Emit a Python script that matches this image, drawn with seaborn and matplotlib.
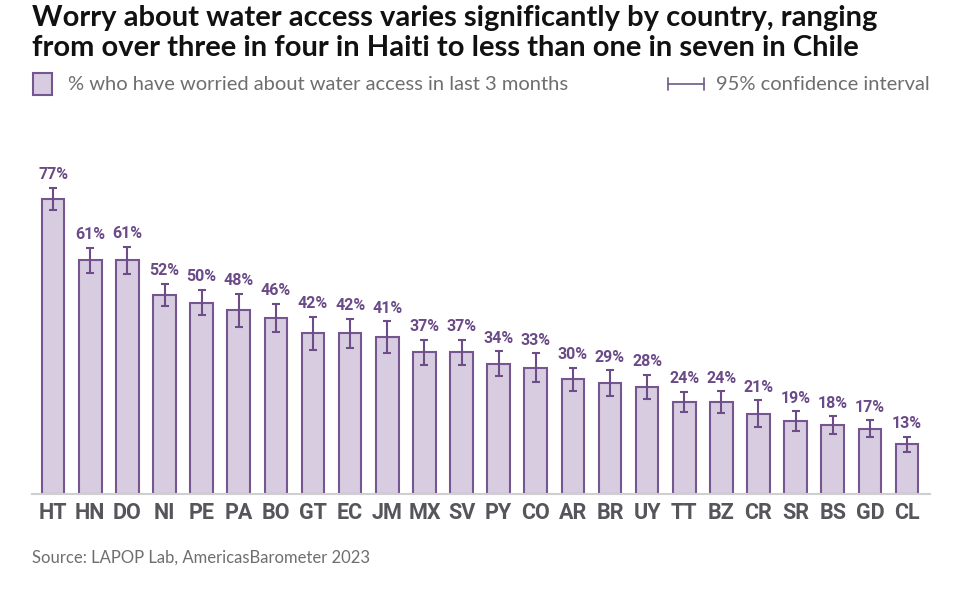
import matplotlib
matplotlib.use("Agg")
import matplotlib.pyplot as plt
import seaborn as sns
import pandas as pd
import numpy as np
from matplotlib.patches import Rectangle
from matplotlib.lines import Line2D

countries = ["HT", "HN", "DO", "NI", "PE", "PA", "BO", "GT", "EC", "JM", "MX", "SV",
             "PY", "CO", "AR", "BR", "UY", "TT", "BZ", "CR", "SR", "BS", "GD", "CL"]
pct = [77, 61, 61, 52, 50, 48, 46, 42, 42, 41, 37, 37, 34, 33, 30, 29, 28, 24, 24, 21, 19, 18, 17, 13]
ci = [2.9, 3.3, 3.5, 2.9, 3.3, 4.3, 3.7, 4.3, 3.8, 4.1, 3.3, 3.3, 3.3, 3.8, 3.0, 3.3, 3.1,
      2.7, 2.8, 3.5, 2.6, 2.3, 2.2, 2.0]

n = len(countries)
df = pd.DataFrame({"country": countries, "pct": pct, "ci": ci})

title = ("Worry about water access varies significantly by country, ranging\n"
         "from over three in four in Haiti to less than one in seven in Chile")
legend_bar = "% who have worried about water access in last 3 months"
legend_ci = "95% confidence interval"
source = "Source: LAPOP Lab, AmericasBarometer 2023"

FILL = "#d8cde0"
EDGE = "#765691"
ERR = "#6d4d88"
LAB = "#6a4a87"
TICK = "#55555c"
GRAY = "#6e6e6e"

sns.set_theme(style="white")
plt.rcParams["font.family"] = ["Lato", "DejaVu Sans"]

fig = plt.figure(figsize=(9.75, 6.06), dpi=100)
ax = fig.add_axes([32 / 975, 0.1848, (930 - 32) / 975, 0.5688])

sns.barplot(data=df, x="country", y="pct", color=FILL, edgecolor=EDGE,
            linewidth=1.5, width=0.61, saturation=1, ax=ax)
for p in ax.patches:
    p.set_facecolor(FILL)
    p.set_edgecolor(EDGE)

xs = np.arange(n)
ax.errorbar(xs, df["pct"], yerr=df["ci"], fmt="none", ecolor=ERR,
            elinewidth=1.5, capsize=2.6, capthick=1.5, zorder=3)

for x, v, e in zip(xs, df["pct"], df["ci"]):
    ax.annotate(f"{v}%", (x, v + e), xytext=(0, 4), textcoords="offset points",
                ha="center", va="bottom", fontsize=11.5, fontweight="bold",
                color=LAB, family=["Roboto", "DejaVu Sans"])

ax.set_xlim(-0.57, n - 1 + 0.62)
ax.set_ylim(0, 90)
ax.set_xlabel("")
ax.set_ylabel("")
ax.set_yticks([])
for s in ["top", "right", "left"]:
    ax.spines[s].set_visible(False)
ax.spines["bottom"].set_color("#cfcfcf")
ax.spines["bottom"].set_linewidth(1.5)
ax.tick_params(axis="x", length=0, pad=6)
for t in ax.get_xticklabels():
    t.set_fontfamily(["Roboto", "DejaVu Sans"])
    t.set_fontweight("bold")
    t.set_fontsize(15.5)
    t.set_color(TICK)

# Title
fig.text(32 / 975, 1 - 5 / 606, title, ha="left", va="top", fontsize=21,
         fontweight="bold", color="#111111", linespacing=1.18)

# Legend
fig.add_artist(Rectangle((33 / 975, 1 - 95 / 606), 19 / 975, 22 / 606,
                         transform=fig.transFigure, facecolor=FILL,
                         edgecolor=EDGE, linewidth=1.5))
fig.text(68 / 975, 1 - 84 / 606, legend_bar, ha="left", va="center",
         fontsize=14.5, color=GRAY)
yl = 1 - 84 / 606
fig.add_artist(Line2D([668 / 975, 704 / 975], [yl, yl], transform=fig.transFigure,
                      color="#6f5a85", linewidth=1.2))
for xx in (668, 704):
    fig.add_artist(Line2D([xx / 975, xx / 975], [yl - 6 / 606, yl + 6 / 606],
                          transform=fig.transFigure, color="#6f5a85", linewidth=1.2))
fig.text(716 / 975, 1 - 84 / 606, legend_ci, ha="left", va="center",
         fontsize=14.5, color=GRAY)

# Source
fig.text(32 / 975, 1 - 558 / 606, source, ha="left", va="center",
         fontsize=12, color=GRAY)

fig.savefig("out.png", dpi=100, facecolor="white")
